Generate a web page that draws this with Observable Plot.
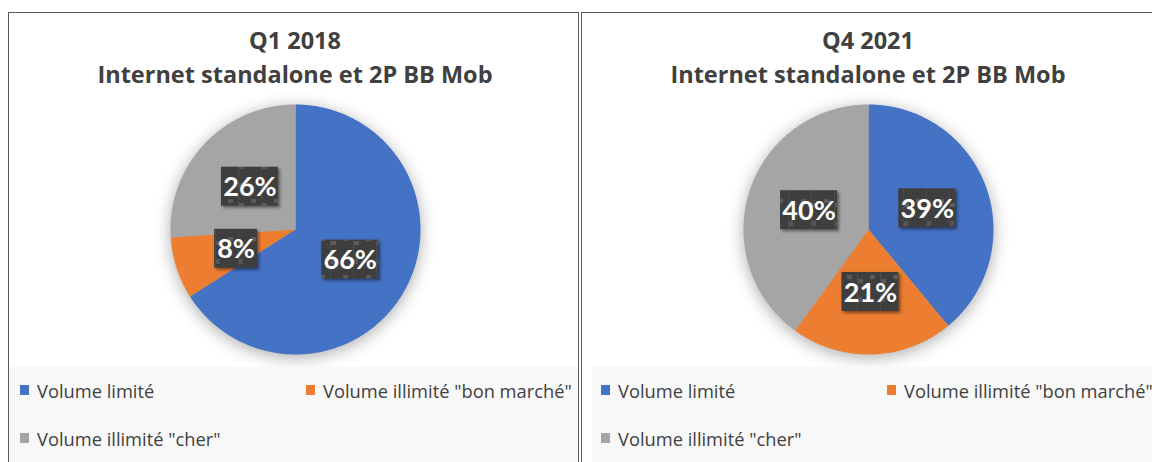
<!DOCTYPE html>
<html><head><meta charset="utf-8">
<script src="https://cdn.jsdelivr.net/npm/d3@7"></script>
<script src="https://cdn.jsdelivr.net/npm/@observablehq/plot@0.6"></script>
<style>
body{margin:0;background:#fff;width:1152px;height:462px;overflow:hidden;position:relative;font-family:"Open Sans",sans-serif;color:#404040}
.panel{position:absolute;top:12px;height:470px;border:1px solid #5a5a5a;background:#fff;box-sizing:border-box}
.title{position:absolute;top:10px;width:560px;text-align:center;font-weight:bold;font-size:23.5px;line-height:34px;color:#404040;white-space:nowrap}
.legend{position:absolute;top:354px;right:0;height:130px;background:#f8f8f8}
.item{position:absolute;height:20px;display:flex;align-items:center;font-size:18.3px;color:#404040;white-space:nowrap}
.sw{display:inline-block;width:9px;height:10px;margin-right:8px}
.chart{position:absolute;left:0;top:0}
</style></head>
<body>
<svg width="0" height="0" style="position:absolute">
 <defs>
  <pattern id="boxpat" patternUnits="userSpaceOnUse" width="23" height="38">
   <rect width="23" height="38" fill="#3e3e3e"/>
   <rect x="0" y="0" width="5" height="4" fill="#5a5a5a"/>
   <rect x="12" y="34" width="5" height="4" fill="#5a5a5a"/>
   <rect x="0" y="18" width="4" height="5" fill="#555"/>
   <line x1="22.5" y1="0" x2="22.5" y2="38" stroke="#4b4b4b"/>
  </pattern>
 </defs>
</svg>
<div id="root"></div>
<script>
const categories = ["Volume limité", 'Volume illimité "bon marché"', 'Volume illimité "cher"'];
const colors = ["#4472C4", "#ED7D31", "#A5A5A5"];
const periods = ["Q1 2018", "Q4 2021"];
const subtitle = "Internet standalone et 2P BB Mob";
const values2018 = [66, 8, 26];
const values2021 = [39, 21, 40];

const panels = [
  {period: periods[0], values: values2018, left: 8, width: 571, legendLeft: 0},
  {period: periods[1], values: values2021, left: 581, width: 580, legendLeft: 10}
];

const W = 569, H = 354, CX = 286, CY = 216, R = 125;
const root = document.getElementById("root");

panels.forEach(p => {
  const panel = document.createElement("div");
  panel.className = "panel";
  panel.style.left = p.left + "px";
  panel.style.width = p.width + "px";
  root.appendChild(panel);

  const arcs = d3.pie().sort(null).value(d => d)(p.values);
  const pts = [];
  arcs.forEach((a, i) => {
    const cat = categories[i];
    pts.push({x: 0, y: 0, cat});
    const n = Math.max(2, Math.ceil((a.endAngle - a.startAngle) / 0.01));
    for (let k = 0; k <= n; k++) {
      const t = a.startAngle + (a.endAngle - a.startAngle) * k / n;
      pts.push({x: Math.sin(t), y: Math.cos(t), cat});
    }
    pts.push({x: 0, y: 0, cat});
  });
  const labels = arcs.map((a, i) => {
    const m = (a.startAngle + a.endAngle) / 2;
    const txt = p.values[i] + "%";
    const hw = (15 + 14 * txt.length) / 2 / R;
    const hh = 19.5 / R;
    const cx = 0.5 * Math.sin(m), cy = 0.5 * Math.cos(m);
    return {txt, cx, cy, x1: cx - hw, x2: cx + hw, y1: cy - hh, y2: cy + hh};
  });

  const svg = Plot.plot({
    width: W, height: H, margin: 0,
    x: {domain: [-CX / R, (W - CX) / R], range: [0, W], axis: null},
    y: {domain: [-(H - CY) / R, CY / R], range: [H, 0], axis: null},
    color: {domain: categories, range: colors},
    style: {background: "transparent", overflow: "visible"},
    marks: [
      Plot.line(pts, {x: "x", y: "y", z: "cat", fill: "cat", stroke: "none", curve: "linear"}),
      Plot.rect(labels, {x1: "x1", x2: "x2", y1: "y1", y2: "y2", fill: "#3e3e3e"}),
      Plot.text(labels, {x: "cx", y: "cy", text: "txt", fill: "white", fontWeight: "bold", fontSize: 27, fontFamily: "Lato, sans-serif", dy: 1})
    ]
  });
  svg.classList.add("chart");
  const lineG = svg.querySelector('g[aria-label="line"]');
  if (lineG) lineG.style.filter = "drop-shadow(0px 3px 8px rgba(0,0,0,0.33))";
  const rectG = svg.querySelector('g[aria-label="rect"]');
  if (rectG) {
    rectG.setAttribute("fill", "url(#boxpat)");
    rectG.querySelectorAll("rect").forEach(r => r.setAttribute("fill", "url(#boxpat)"));
    rectG.style.filter = "drop-shadow(2px 2px 1.5px rgba(0,0,0,0.45))";
  }
  panel.appendChild(svg);

  const title = document.createElement("div");
  title.className = "title";
  title.style.left = (CX - 280) + "px";
  const l1 = document.createElement("div"); l1.textContent = p.period;
  const l2 = document.createElement("div"); l2.textContent = subtitle;
  title.appendChild(l1); title.appendChild(l2);
  panel.appendChild(title);

  const legend = document.createElement("div");
  legend.className = "legend";
  legend.style.left = p.legendLeft + "px";
  panel.appendChild(legend);
  const pos = [[11, 13], [297, 13], [11, 61]];
  categories.forEach((c, i) => {
    const it = document.createElement("div");
    it.className = "item";
    it.style.left = (pos[i][0] - p.legendLeft + (p.legendLeft ? 8 : 0)) + "px";
    it.style.top = pos[i][1] + "px";
    const sw = document.createElement("span");
    sw.className = "sw"; sw.style.background = colors[i];
    const tx = document.createElement("span"); tx.textContent = c;
    it.appendChild(sw); it.appendChild(tx);
    legend.appendChild(it);
  });
});
</script>
</body></html>
